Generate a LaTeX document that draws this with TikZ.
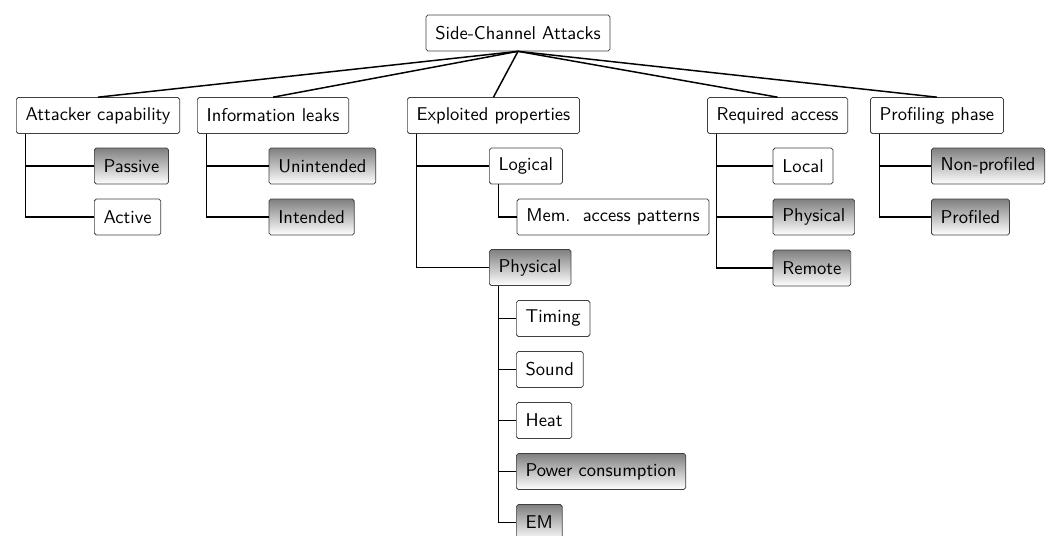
\documentclass[tikz,border=0pt]{standalone}
\usetikzlibrary{positioning}
\tikzset{
  box/.style={draw=black!75,rounded corners=1pt,minimum height=19.4pt,inner xsep=5pt,font=\sffamily,fill=white},
  leaf/.style={box,anchor=west},
  shade/.style={leaf,top color=black!50,bottom color=white},
  link/.style={draw,thick},
}
\begin{document}
\begin{tikzpicture}[x=0.54pt,y=-0.54pt]
\useasboundingbox (0,0) rectangle (1051,535);
\node[box] at (518,33) (root) {Side-Channel Attacks};
% first level
\node[leaf] at (16,115.5) (cap) {Attacker capability};
\node[leaf] at (197,115.5) (leaks) {Information leaks};
\node[leaf] at (407,115.5) (expl) {Exploited properties};
\node[leaf] at (707,115.5) (access) {Required access};
\node[leaf] at (870,115.5) (prof) {Profiling phase};
% attacker capability
\node[shade] at (94,166) (passive) {Passive};
\node[leaf] at (94,217) (active) {Active};
% information leaks
\node[shade] at (268.7,166) (unint) {Unintended};
\node[shade] at (268.7,217) (intend) {Intended};
% exploited properties
\node[leaf] at (489,166) (logical) {Logical};
\node[leaf] at (516.7,217) (mem) {Mem.\hspace{0.66em}access patterns};
\node[shade] at (489,267.5) (physical) {Physical};
\node[leaf] at (516,318.5) (timing) {Timing};
\node[leaf] at (516,369.5) (sound) {Sound};
\node[leaf] at (516,420.5) (heat) {Heat};
\node[shade] at (516,471.5) (power) {Power consumption};
\node[shade] at (516,522.5) (em) {EM};
% required access
\node[leaf] at (772.7,166) (local) {Local};
\node[shade] at (772.7,217) (physacc) {Physical};
\node[shade] at (772.7,268) (remote) {Remote};
% profiling phase
\node[shade] at (931,166) (nonprof) {Non-profiled};
\node[shade] at (931,217) (profd) {Profiled};
% edges
\foreach \n in {cap,leaks,expl,access,prof}
  \draw[link] (root.south) -- (\n.north);
\draw[link] ([xshift=5pt]cap.south west) |- (passive.west);
\draw[link] ([xshift=5pt]cap.south west) |- (active.west);
\draw[link] ([xshift=5pt]leaks.south west) |- (unint.west);
\draw[link] ([xshift=5pt]leaks.south west) |- (intend.west);
\draw[link] ([xshift=5pt]expl.south west) |- (logical.west);
\draw[link] ([xshift=5pt]expl.south west) |- (physical.west);
\draw[link] ([xshift=5pt]logical.south west) |- (mem.west);
\foreach \n in {timing,sound,heat,power,em}
  \draw[link] ([xshift=5pt]physical.south west) |- (\n.west);
\foreach \n in {local,physacc,remote}
  \draw[link] ([xshift=5pt]access.south west) |- (\n.west);
\draw[link] ([xshift=5pt]prof.south west) |- (nonprof.west);
\draw[link] ([xshift=5pt]prof.south west) |- (profd.west);
\end{tikzpicture}
\end{document}
